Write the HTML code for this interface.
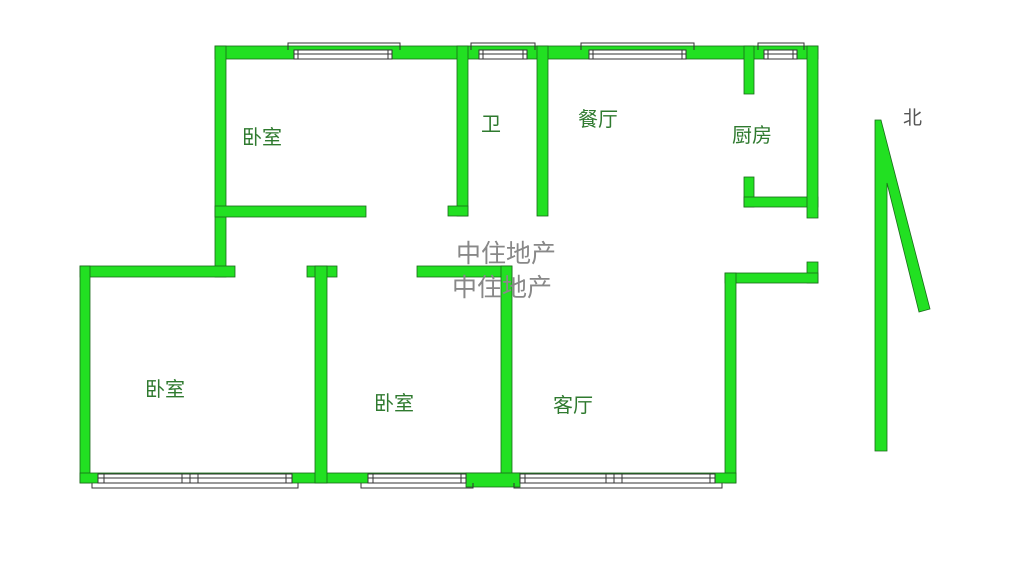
<!DOCTYPE html>
<html><head><meta charset="utf-8"><style>
html,body{margin:0;padding:0;background:#fff;}
svg{display:block}
text{font-family:"Liberation Sans","Noto Sans CJK SC",sans-serif;}
</style></head><body>
<svg width="1024" height="563" viewBox="0 0 1024 563" xmlns="http://www.w3.org/2000/svg">
<rect width="1024" height="563" fill="#fff"/>
<g fill="#22e022" stroke="#1a6a1a" stroke-width="0.8">
<rect x="215" y="46" width="603" height="13"/>
<rect x="215" y="46" width="11" height="231"/>
<rect x="215" y="206" width="151" height="11"/>
<rect x="457" y="46" width="11" height="170"/>
<rect x="448" y="206" width="20" height="10"/>
<rect x="537" y="46" width="11" height="170"/>
<rect x="744" y="46" width="10" height="48"/>
<rect x="744" y="177" width="10" height="30"/>
<rect x="744" y="197" width="74" height="10"/>
<rect x="807" y="46" width="11" height="172"/>
<rect x="807" y="262" width="11" height="21"/>
<rect x="725" y="273" width="93" height="10"/>
<rect x="725" y="273" width="11" height="210"/>
<rect x="80" y="266" width="155" height="11"/>
<rect x="80" y="266" width="10" height="217"/>
<rect x="80" y="473" width="656" height="10"/>
<rect x="307" y="266" width="30" height="11"/>
<rect x="315" y="266" width="12" height="217"/>
<rect x="417" y="266" width="95" height="11"/>
<rect x="501" y="266" width="11" height="217"/>
<rect x="466" y="473" width="54" height="14"/>
<polygon points="875,120 881,120 930,309 919,312 887,183 887,451 875,451"/>
</g>
<g fill="#fff" stroke="#333" stroke-width="1">
<rect x="294" y="50" width="98" height="9"/>
<rect x="479" y="50" width="48" height="9"/>
<rect x="589" y="50" width="97" height="9"/>
<rect x="764" y="50" width="33" height="9"/>
<rect x="98" y="474" width="194" height="9"/>
<rect x="368" y="474" width="98" height="9"/>
<rect x="520" y="474" width="195" height="9"/>
</g>
<g fill="none" stroke="#333" stroke-width="1">
<polyline points="288,50 288,43 400,43 400,50"/>
<polyline points="471,50 471,43 535,43 535,50"/>
<polyline points="581,50 581,43 694,43 694,50"/>
<polyline points="758,50 758,43 804,43 804,50"/>
<line x1="294" y1="54" x2="392" y2="54"/><line x1="298" y1="50" x2="298" y2="59"/><line x1="388" y1="50" x2="388" y2="59"/>
<line x1="479" y1="54" x2="527" y2="54"/><line x1="483" y1="50" x2="483" y2="59"/><line x1="523" y1="50" x2="523" y2="59"/>
<line x1="589" y1="54" x2="686" y2="54"/><line x1="593" y1="50" x2="593" y2="59"/><line x1="682" y1="50" x2="682" y2="59"/>
<line x1="764" y1="54" x2="797" y2="54"/><line x1="768" y1="50" x2="768" y2="59"/><line x1="793" y1="50" x2="793" y2="59"/>
<polyline points="92,483 92,488 298,488 298,483"/>
<polyline points="361,483 361,488 473,488 473,483"/>
<polyline points="514,483 514,488 722,488 722,483"/>
<line x1="98" y1="478" x2="292" y2="478"/><line x1="104" y1="474" x2="104" y2="483"/><line x1="286" y1="474" x2="286" y2="483"/>
<line x1="182" y1="474" x2="182" y2="483"/><line x1="190" y1="474" x2="190" y2="483"/><line x1="198" y1="474" x2="198" y2="483"/>
<line x1="368" y1="478" x2="466" y2="478"/><line x1="373" y1="474" x2="373" y2="483"/><line x1="461" y1="474" x2="461" y2="483"/>
<line x1="520" y1="478" x2="715" y2="478"/><line x1="525" y1="474" x2="525" y2="483"/><line x1="710" y1="474" x2="710" y2="483"/>
<line x1="606" y1="474" x2="606" y2="483"/><line x1="614" y1="474" x2="614" y2="483"/><line x1="622" y1="474" x2="622" y2="483"/>
</g>
<g fill="#888" font-size="25">
<text x="456" y="262">中住地产</text>
<text x="452" y="296">中住地产</text>
</g>
<g fill="#2f7a2f" font-size="20">
<text x="242" y="144">卧室</text>
<text x="481" y="131">卫</text>
<text x="578" y="126">餐厅</text>
<text x="732" y="142">厨房</text>
<text x="145" y="396">卧室</text>
<text x="374" y="410">卧室</text>
<text x="553" y="412">客厅</text>
<text x="903" y="124" fill="#555" font-size="19">北</text>
</g>
</svg>
</body></html>
